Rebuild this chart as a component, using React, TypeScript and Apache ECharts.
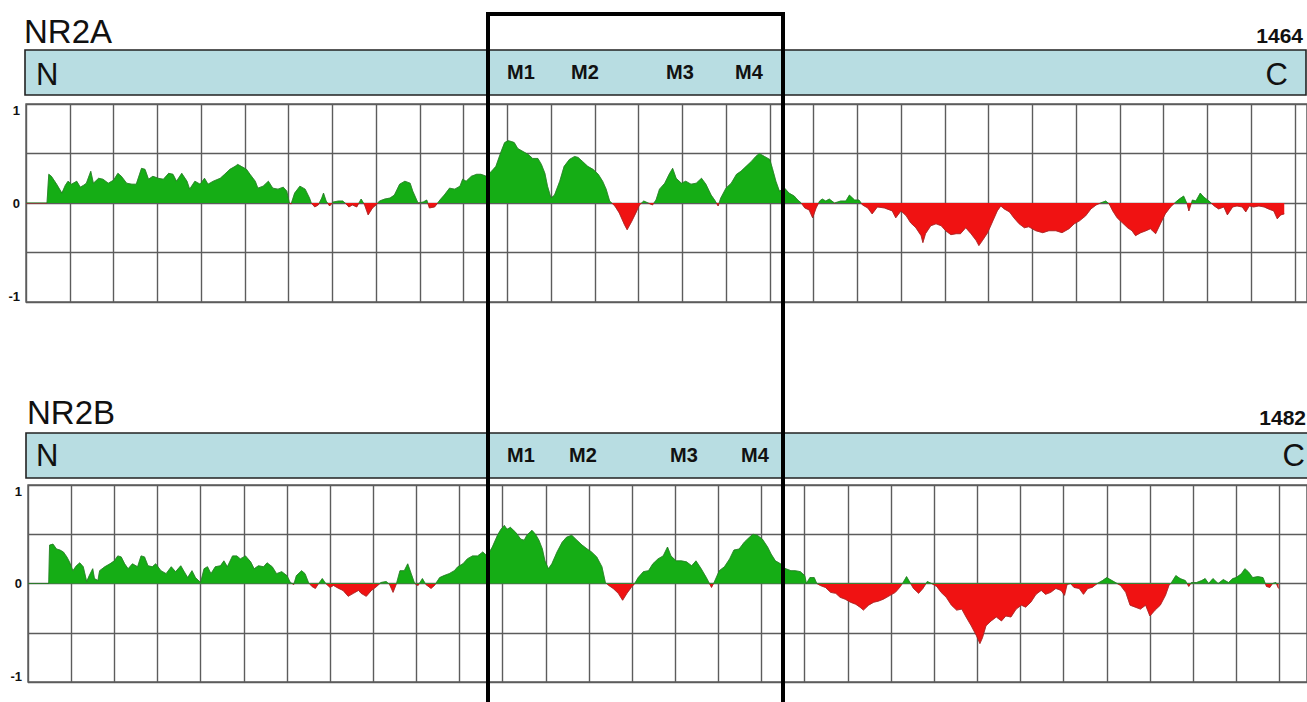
import React, { useEffect, useRef } from "react";
import * as echarts from "echarts";

// Hydropathy profiles: [residue, value]
const nr2aProfile: [number, number][] = [
  [0, 0], [24, 0], [26, 0.29], [29, 0.27], [35, 0.19], [41, 0.10], [45, 0.18], [48, 0.22], [52, 0.19], [58, 0.22],
  [62, 0.16], [66, 0.18], [69, 0.20], [74, 0.32], [77, 0.20], [83, 0.25], [88, 0.24], [94, 0.20], [100, 0.23], [105, 0.30],
  [109, 0.27], [115, 0.20], [121, 0.19], [126, 0.19], [132, 0.35], [136, 0.34], [140, 0.24], [145, 0.27], [151, 0.25], [157, 0.24],
  [163, 0.30], [168, 0.29], [172, 0.22], [178, 0.30], [184, 0.22], [187, 0.14], [193, 0.22], [199, 0.19], [204, 0.25], [208, 0.19],
  [214, 0.22], [222, 0.25], [227, 0.29], [233, 0.34], [239, 0.37], [242, 0.39], [246, 0.37], [252, 0.34], [256, 0.29], [262, 0.22],
  [265, 0.15], [271, 0.17], [277, 0.22], [282, 0.15], [288, 0.14], [294, 0.16], [298, 0.12], [301, 0], [303, -0.01], [307, 0.10],
  [313, 0.17], [319, 0.14], [324, 0.05], [326, 0], [330, -0.04], [334, -0.02], [338, 0.05], [340, 0.10], [343, 0.02], [347, -0.03],
  [351, 0.01], [357, 0.02], [362, 0.02], [366, -0.01], [369, -0.04], [373, -0.02], [378, -0.04], [383, 0.04], [387, -0.02], [391, -0.12],
  [396, -0.05], [400, -0.02], [404, 0.02], [410, 0.04], [416, 0.05], [421, 0.08], [427, 0.19], [433, 0.22], [439, 0.20], [442, 0.12],
  [448, 0], [454, 0.01], [458, 0.03], [461, -0.05], [467, -0.04], [473, 0.03], [478, 0.08], [484, 0.15], [490, 0.14], [496, 0.17],
  [499, 0.24], [503, 0.22], [509, 0.27], [515, 0.29], [520, 0.29], [526, 0.27], [532, 0.32], [537, 0.37], [543, 0.52], [547, 0.61],
  [551, 0.63], [555, 0.62], [558, 0.61], [562, 0.55], [568, 0.52], [574, 0.49], [579, 0.45], [585, 0.45], [589, 0.39], [593, 0.30],
  [596, 0.17], [600, 0.05], [604, 0.08], [610, 0.22], [615, 0.37], [621, 0.44], [627, 0.47], [631, 0.46], [636, 0.42], [642, 0.37],
  [648, 0.34], [654, 0.29], [659, 0.22], [663, 0.14], [667, 0.02], [673, -0.03], [678, -0.10], [684, -0.22], [687, -0.27], [692, -0.19],
  [697, -0.10], [701, -0.02], [706, 0.02], [711, 0], [716, -0.02], [720, 0.03], [724, 0.14], [730, 0.20], [735, 0.29], [739, 0.35],
  [743, 0.25], [749, 0.20], [754, 0.22], [760, 0.19], [766, 0.20], [772, 0.25], [777, 0.19], [783, 0.08], [787, 0.03], [791, -0.03],
  [794, 0.05], [800, 0.15], [806, 0.20], [812, 0.29], [817, 0.32], [823, 0.37], [829, 0.42], [834, 0.47], [838, 0.50], [844, 0.47],
  [850, 0.44], [853, 0.35], [857, 0.22], [861, 0.12], [867, 0.15], [872, 0.10], [878, 0.07], [882, 0.03], [886, 0], [890, -0.05],
  [895, -0.07], [899, -0.15], [903, -0.05], [907, 0.02], [910, 0.04], [914, 0.02], [918, 0.04], [924, 0], [931, 0.02], [937, 0.02],
  [941, 0.08], [947, 0.03], [952, 0.03], [956, -0.02], [962, -0.05], [967, -0.11], [973, -0.04], [981, -0.05], [987, -0.07], [990, -0.08],
  [994, -0.15], [1000, -0.08], [1006, -0.13], [1011, -0.20], [1017, -0.25], [1023, -0.33], [1025, -0.40], [1028, -0.31], [1034, -0.23], [1040, -0.21],
  [1046, -0.23], [1051, -0.28], [1057, -0.32], [1063, -0.31], [1068, -0.31], [1074, -0.25], [1080, -0.31], [1086, -0.38], [1089, -0.43], [1093, -0.38],
  [1099, -0.30], [1105, -0.18], [1110, -0.08], [1114, -0.03], [1118, -0.06], [1124, -0.09], [1129, -0.15], [1135, -0.21], [1141, -0.25], [1146, -0.24],
  [1154, -0.28], [1162, -0.30], [1169, -0.28], [1177, -0.28], [1184, -0.30], [1192, -0.26], [1198, -0.21], [1204, -0.18], [1211, -0.13], [1217, -0.06],
  [1223, -0.02], [1228, 0], [1234, 0.02], [1238, -0.01], [1242, -0.08], [1247, -0.15], [1253, -0.20], [1259, -0.25], [1264, -0.28], [1268, -0.33],
  [1274, -0.30], [1280, -0.28], [1285, -0.26], [1291, -0.31], [1297, -0.20], [1302, -0.11], [1308, -0.04], [1314, 0.01], [1318, 0.04], [1323, 0.07],
  [1327, -0.01], [1329, -0.08], [1333, 0.03], [1337, 0.02], [1342, 0.10], [1346, 0.06], [1352, 0.02], [1358, -0.03], [1363, -0.06], [1369, -0.04],
  [1373, -0.12], [1379, -0.04], [1384, -0.03], [1390, -0.04], [1394, -0.09], [1398, -0.03], [1403, -0.04], [1409, -0.03], [1415, -0.04], [1420, -0.06],
  [1426, -0.08], [1430, -0.16], [1434, -0.12], [1438, -0.11],
];

const nr2bProfile: [number, number][] = [
  [0, 0], [24, 0], [25, 0.39], [29, 0.40], [33, 0.35], [37, 0.34], [41, 0.32], [45, 0.27], [48, 0.22], [52, 0.13],
  [56, 0.18], [60, 0.21], [64, 0.17], [68, 0.02], [71, 0.08], [75, 0.15], [77, 0.05], [81, 0.03], [83, 0.13], [89, 0.17],
  [95, 0.20], [100, 0.23], [104, 0.28], [108, 0.27], [112, 0.20], [116, 0.15], [121, 0.20], [127, 0.17], [131, 0.28], [135, 0.27],
  [139, 0.18], [144, 0.17], [148, 0.20], [154, 0.13], [160, 0.10], [166, 0.17], [171, 0.12], [177, 0.18], [181, 0.12], [185, 0.06],
  [190, 0.13], [194, 0.06], [200, 0.01], [204, 0.15], [208, 0.17], [212, 0.10], [217, 0.17], [223, 0.18], [227, 0.23], [231, 0.17],
  [237, 0.28], [242, 0.28], [246, 0.25], [252, 0.28], [258, 0.22], [262, 0.15], [267, 0.18], [273, 0.17], [277, 0.21], [283, 0.17],
  [288, 0.10], [294, 0.12], [300, 0.08], [304, 0.01], [308, -0.01], [311, 0.08], [317, 0.13], [321, 0.10], [325, 0.01], [329, -0.03],
  [333, -0.05], [336, -0.01], [341, 0.05], [345, 0], [350, -0.04], [354, -0.02], [360, -0.05], [365, -0.07], [371, -0.13], [377, -0.10],
  [383, -0.07], [386, -0.10], [392, -0.13], [398, -0.07], [404, -0.03], [409, 0.01], [415, 0.02], [419, -0.01], [423, -0.09], [427, 0],
  [431, 0.13], [436, 0.13], [440, 0.20], [444, 0.10], [448, 0], [452, -0.02], [457, 0.05], [461, -0.01], [467, -0.05], [471, -0.02],
  [477, 0.06], [482, 0.08], [488, 0.10], [494, 0.13], [498, 0.17], [504, 0.20], [509, 0.25], [515, 0.28], [521, 0.28], [527, 0.32],
  [532, 0.28], [538, 0.37], [544, 0.49], [548, 0.55], [552, 0.59], [555, 0.55], [559, 0.57], [565, 0.52], [571, 0.45], [575, 0.44],
  [578, 0.49], [584, 0.54], [588, 0.50], [592, 0.44], [596, 0.35], [599, 0.23], [603, 0.15], [607, 0.20], [613, 0.32], [619, 0.42],
  [624, 0.47], [630, 0.49], [636, 0.44], [642, 0.39], [648, 0.35], [653, 0.32], [659, 0.27], [665, 0.17], [669, 0.01], [673, -0.02],
  [678, -0.05], [684, -0.10], [689, -0.17], [694, -0.10], [699, -0.04], [703, 0], [707, 0.06], [713, 0.12], [719, 0.13], [724, 0.20],
  [730, 0.25], [736, 0.28], [741, 0.37], [745, 0.28], [751, 0.23], [757, 0.23], [763, 0.22], [769, 0.18], [774, 0.23], [780, 0.15],
  [786, 0.06], [792, -0.04], [795, 0.01], [801, 0.13], [807, 0.17], [813, 0.25], [818, 0.34], [824, 0.35], [830, 0.42], [836, 0.47],
  [840, 0.50], [845, 0.49], [851, 0.45], [857, 0.37], [861, 0.30], [866, 0.23], [872, 0.20], [878, 0.15], [884, 0.13], [889, 0.13],
  [895, 0.12], [900, 0.08], [902, 0], [906, 0.06], [911, 0.06], [914, 0], [918, -0.02], [924, -0.04], [930, -0.09], [936, -0.10],
  [941, -0.14], [947, -0.16], [953, -0.19], [959, -0.21], [964, -0.24], [968, -0.27], [974, -0.22], [980, -0.19], [985, -0.18], [991, -0.16],
  [999, -0.12], [1005, -0.09], [1010, -0.04], [1014, 0.01], [1018, 0.07], [1022, 0.01], [1026, -0.05], [1032, -0.10], [1037, -0.05], [1042, 0.02],
  [1047, 0], [1053, -0.03], [1058, -0.09], [1064, -0.14], [1070, -0.22], [1076, -0.27], [1082, -0.26], [1087, -0.34], [1093, -0.43], [1099, -0.53],
  [1103, -0.61], [1106, -0.55], [1110, -0.43], [1116, -0.38], [1122, -0.34], [1128, -0.38], [1133, -0.33], [1139, -0.34], [1145, -0.26], [1151, -0.22],
  [1156, -0.24], [1162, -0.19], [1168, -0.11], [1174, -0.07], [1179, -0.11], [1185, -0.09], [1191, -0.05], [1197, -0.07], [1201, -0.12], [1204, -0.01],
  [1208, 0], [1212, -0.04], [1218, -0.05], [1223, -0.11], [1228, -0.05], [1233, -0.04], [1239, 0], [1245, 0.03], [1250, 0.06], [1256, 0.03],
  [1262, 0], [1266, -0.02], [1272, -0.09], [1277, -0.22], [1283, -0.24], [1289, -0.26], [1295, -0.22], [1300, -0.33], [1306, -0.27], [1312, -0.22],
  [1318, -0.12], [1322, -0.02], [1325, 0.01], [1330, 0.08], [1335, 0.05], [1341, 0.03], [1345, -0.03], [1348, 0.01], [1354, 0.01], [1360, 0.03],
  [1364, 0.05], [1368, 0], [1373, 0.05], [1379, 0], [1385, 0.04], [1391, 0.01], [1396, 0.05], [1400, 0.06], [1406, 0.10], [1410, 0.15],
  [1414, 0.12], [1419, 0.06], [1425, 0.07], [1431, 0.06], [1435, -0.03], [1439, -0.04], [1442, 0], [1446, 0.01], [1449, -0.05],
];

const panelNames = ["NR2A", "NR2B"];
const proteinLengths = [1464, 1482];
const domainLabels = ["M1", "M2", "M3", "M4"];
const terminalLabels = ["N", "C"];
const yTickLabels = ["1", "0", "-1"];

const GREEN = "#15ad15";
const RED = "#f01212";
const GRID_COLOR = "#5c5c5c";
const BAR_FILL = "#b8dde2";
const FONT = 'Arial, "Liberation Sans", sans-serif';

// layout per panel
const layouts = [
  {
    grid: { left: 26, top: 104, width: 1282, height: 198 },
    titleY: 31, titleX: 24,
    lengthY: 35, lengthX: 1303,
    bar: { x: 25, y: 50, width: 1281, height: 45 },
    termY: 74, nX: 36, cX: 1288,
    mY: 72, mX: [521, 585, 680, 749],
  },
  {
    grid: { left: 28, top: 485, width: 1286, height: 197 },
    titleY: 412, titleX: 27,
    lengthY: 417, lengthX: 1306,
    bar: { x: 26, y: 433, width: 1290, height: 45 },
    termY: 455, nX: 36, cX: 1305,
    mY: 455, mX: [521, 583, 684, 755],
  },
];

function yLabelFormatter(v: number): string {
  if (v === 1) return "{t|" + yTickLabels[0] + "}";
  if (v === 0) return "{m|" + yTickLabels[1] + "}";
  if (v === -1) return "{b|" + yTickLabels[2] + "}";
  return "";
}

const labelFont = { fontSize: 13, fontWeight: "bold" as const, fontFamily: FONT, color: "#111" };

export default function App() {
  const ref = useRef<HTMLDivElement>(null);

  useEffect(() => {
    if (!ref.current) return;
    const chart = echarts.init(ref.current, undefined, { renderer: "svg" });

    const profiles = [nr2aProfile, nr2bProfile];

    const grids = layouts.map((l) => ({
      ...l.grid,
      show: true,
      borderColor: GRID_COLOR,
      borderWidth: 1.4,
      backgroundColor: "transparent",
    }));

    const xAxes = layouts.map((_, i) => ({
      type: "value" as const,
      gridIndex: i,
      min: 0,
      max: proteinLengths[i],
      interval: 50,
      axisLine: { show: false },
      axisTick: { show: false },
      axisLabel: { show: false },
      splitLine: { show: true, lineStyle: { color: GRID_COLOR, width: 1.4 } },
    }));

    const yAxes = layouts.map((_, i) => ({
      type: "value" as const,
      gridIndex: i,
      min: -1,
      max: 1,
      interval: 0.5,
      axisLine: { show: false },
      axisTick: { show: false },
      splitLine: { show: true, lineStyle: { color: GRID_COLOR, width: 1.4 } },
      axisLabel: {
        margin: 6,
        formatter: yLabelFormatter,
        rich: {
          t: { ...labelFont, padding: [12, 0, 0, 0] },
          m: { ...labelFont },
          b: { ...labelFont, padding: [0, 0, 12, 0] },
        },
      },
    }));

    const series: any[] = [];
    profiles.forEach((data, i) => {
      series.push({
        type: "line",
        xAxisIndex: i,
        yAxisIndex: i,
        data,
        symbol: "none",
        showSymbol: false,
        lineStyle: { width: 0.8 },
        areaStyle: { opacity: 1 },
        z: 2,
      });
      series.push({
        type: "line",
        xAxisIndex: i,
        yAxisIndex: i,
        data,
        symbol: "none",
        showSymbol: false,
        silent: true,
        lineStyle: { width: 0.7, color: "#3a3a3a", opacity: 0.5 },
        z: 3,
      });
    });

    const elements: any[] = [];
    layouts.forEach((l, i) => {
      elements.push({
        type: "rect",
        shape: { ...l.bar },
        style: { fill: BAR_FILL, stroke: "#222", lineWidth: 1.6 },
        z: 10,
      });
      elements.push({
        type: "text",
        x: l.titleX,
        y: l.titleY,
        style: {
          text: panelNames[i], fill: "#111", fontSize: 33, fontFamily: FONT,
          align: "left", verticalAlign: "middle", textAlign: "left", textVerticalAlign: "middle",
        },
        z: 11,
      });
      elements.push({
        type: "text",
        x: l.lengthX,
        y: l.lengthY,
        style: {
          text: String(proteinLengths[i]), fill: "#111", fontSize: 21, fontWeight: "bold", fontFamily: FONT,
          align: "right", verticalAlign: "middle", textAlign: "right", textVerticalAlign: "middle",
        },
        z: 11,
      });
      elements.push({
        type: "text",
        x: l.nX,
        y: l.termY,
        style: {
          text: terminalLabels[0], fill: "#111", fontSize: 31, fontFamily: FONT,
          align: "left", verticalAlign: "middle", textAlign: "left", textVerticalAlign: "middle",
        },
        z: 11,
      });
      elements.push({
        type: "text",
        x: l.cX,
        y: l.termY,
        style: {
          text: terminalLabels[1], fill: "#111", fontSize: 31, fontFamily: FONT,
          align: "right", verticalAlign: "middle", textAlign: "right", textVerticalAlign: "middle",
        },
        z: 11,
      });
      domainLabels.forEach((m, k) => {
        elements.push({
          type: "text",
          x: l.mX[k],
          y: l.mY,
          style: {
            text: m, fill: "#111", fontSize: 20, fontWeight: "bold", fontFamily: FONT,
            align: "center", verticalAlign: "middle", textAlign: "center", textVerticalAlign: "middle",
          },
          z: 11,
        });
      });
    });
    elements.push({
      type: "rect",
      shape: { x: 488, y: 14, width: 295, height: 720 },
      style: { fill: "none", stroke: "#000", lineWidth: 4 },
      z: 100,
    });

    chart.setOption({
      animation: false,
      backgroundColor: "#fff",
      grid: grids,
      xAxis: xAxes,
      yAxis: yAxes,
      visualMap: {
        type: "piecewise",
        show: false,
        dimension: 1,
        seriesIndex: [0, 2],
        pieces: [
          { gte: -5, lt: 0, color: RED },
          { gte: 0, lte: 5, color: GREEN },
        ],
      },
      series,
      graphic: { elements },
    });

    return () => chart.dispose();
  }, []);

  return (
    <div
      ref={ref}
      style={{ position: "absolute", left: 0, top: 0, width: 1307, height: 702 }}
    />
  );
}
